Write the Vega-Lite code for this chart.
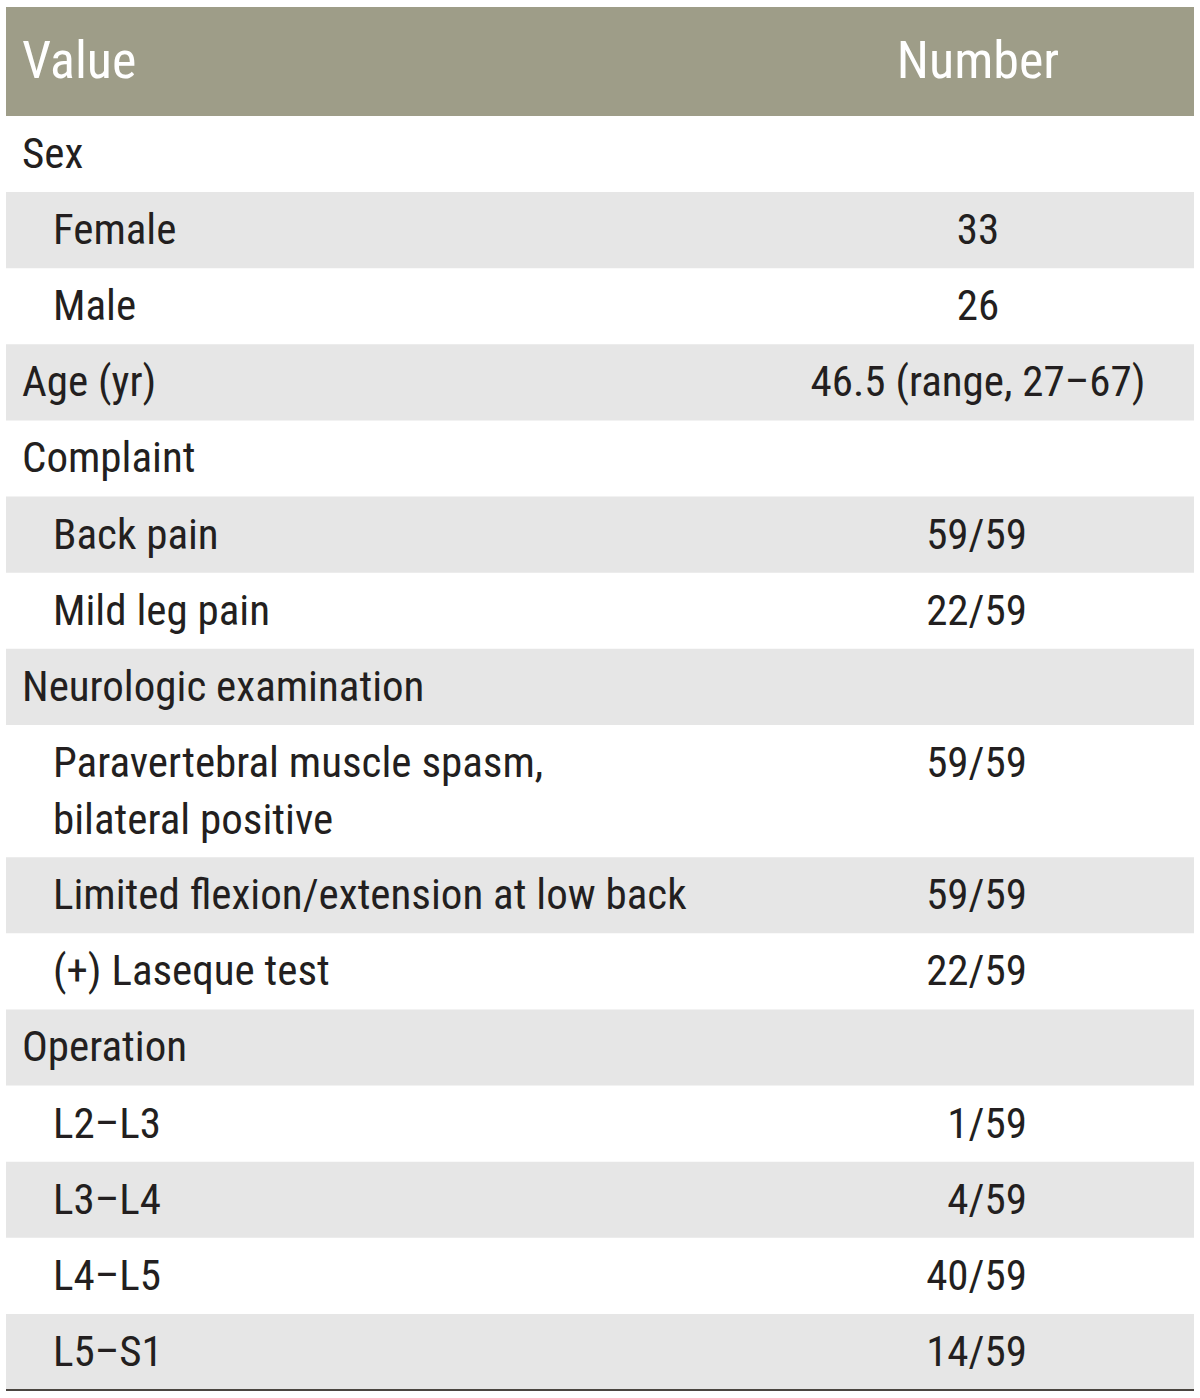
{
  "$schema": "https://vega.github.io/schema/vega-lite/v6.json",
  "width": 1188,
  "height": 1398,
  "autosize": "none",
  "padding": {"left": 6, "right": 6, "top": 0, "bottom": 0},
  "background": "white",
  "config": {"view": {"stroke": null}, "text": {"font": "Roboto Condensed, Roboto"}},
  "data": {"values": [
    {"row": 0, "kind": "header", "label": "Value", "value": "Number", "lines": 1},
    {"row": 1, "kind": "group", "label": "Sex", "value": "", "lines": 1},
    {"row": 2, "kind": "item", "label": "Female", "value": "33", "lines": 1},
    {"row": 3, "kind": "item", "label": "Male", "value": "26", "lines": 1},
    {"row": 4, "kind": "group", "label": "Age (yr)", "value": "46.5 (range, 27–67)", "lines": 1},
    {"row": 5, "kind": "group", "label": "Complaint", "value": "", "lines": 1},
    {"row": 6, "kind": "item", "label": "Back pain", "value": "59/59", "lines": 1},
    {"row": 7, "kind": "item", "label": "Mild leg pain", "value": "22/59", "lines": 1},
    {"row": 8, "kind": "group", "label": "Neurologic examination", "value": "", "lines": 1},
    {"row": 9, "kind": "item", "label": "Paravertebral muscle spasm,\nbilateral positive", "value": "59/59", "lines": 2},
    {"row": 10, "kind": "item", "label": "Limited flexion/extension at low back", "value": "59/59", "lines": 1},
    {"row": 11, "kind": "item", "label": "(+) Laseque test", "value": "22/59", "lines": 1},
    {"row": 12, "kind": "group", "label": "Operation", "value": "", "lines": 1},
    {"row": 13, "kind": "item", "label": "L2–L3", "value": "1/59", "lines": 1},
    {"row": 14, "kind": "item", "label": "L3–L4", "value": "4/59", "lines": 1},
    {"row": 15, "kind": "item", "label": "L4–L5", "value": "40/59", "lines": 1},
    {"row": 16, "kind": "item", "label": "L5–S1", "value": "14/59", "lines": 1}
  ]},
  "transform": [
    {"calculate": "datum.kind == 'header' ? 1.432 : (datum.lines == 2 ? 1.737 : 1)", "as": "h"},
    {"window": [{"op": "sum", "field": "h", "as": "bottom"}], "sort": [{"field": "row"}], "frame": [null, 0]},
    {"calculate": "datum.bottom - datum.h", "as": "top"}
  ],
  "layer": [
    {
      "transform": [{"filter": "datum.kind == 'header'"}],
      "mark": {"type": "rect", "color": "#9e9d88"},
      "encoding": {
        "y": {"field": "top", "type": "quantitative", "scale": {"domain": [-0.092, 18.274], "reverse": true, "nice": false, "zero": false}, "axis": null},
        "y2": {"field": "bottom"}
      }
    },
    {
      "transform": [{"filter": "datum.kind != 'header' && datum.row % 2 == 0"}],
      "mark": {"type": "rect", "color": "#e6e6e6"},
      "encoding": {
        "y": {"field": "top", "type": "quantitative", "scale": {"domain": [-0.092, 18.274], "reverse": true, "nice": false, "zero": false}, "axis": null},
        "y2": {"field": "bottom"}
      }
    },
    {
      "mark": {"type": "rule", "color": "#4a4540", "strokeWidth": 2},
      "encoding": {
        "y": {"aggregate": "max", "field": "bottom", "type": "quantitative", "scale": {"domain": [-0.092, 18.274], "reverse": true, "nice": false, "zero": false}, "axis": null}
      }
    },
    {
      "transform": [{"filter": "datum.kind == 'header'"}],
      "mark": {"type": "text", "align": "left", "baseline": "alphabetic", "dy": 71, "fontSize": 52, "color": "white"},
      "encoding": {
        "x": {"datum": "Value", "type": "nominal", "scale": {"type": "point", "domain": ["Value", "Number"], "range": [16, 972], "padding": 0}, "axis": null},
        "y": {"field": "top", "type": "quantitative", "scale": {"domain": [-0.092, 18.274], "reverse": true, "nice": false, "zero": false}, "axis": null},
        "text": {"field": "label"}
      }
    },
    {
      "transform": [{"filter": "datum.kind == 'header'"}],
      "mark": {"type": "text", "align": "center", "baseline": "alphabetic", "dy": 71, "fontSize": 52, "color": "white"},
      "encoding": {
        "x": {"datum": "Number", "type": "nominal", "scale": {"type": "point", "domain": ["Value", "Number"], "range": [16, 972], "padding": 0}, "axis": null},
        "y": {"field": "top", "type": "quantitative", "scale": {"domain": [-0.092, 18.274], "reverse": true, "nice": false, "zero": false}, "axis": null},
        "text": {"field": "value"}
      }
    },
    {
      "transform": [{"filter": "datum.kind == 'group'"}],
      "mark": {"type": "text", "align": "left", "baseline": "alphabetic", "dy": 52, "fontSize": 43, "color": "#231f20"},
      "encoding": {
        "x": {"datum": "Value", "type": "nominal", "scale": {"type": "point", "domain": ["Value", "Number"], "range": [16, 972], "padding": 0}, "axis": null},
        "y": {"field": "top", "type": "quantitative", "scale": {"domain": [-0.092, 18.274], "reverse": true, "nice": false, "zero": false}, "axis": null},
        "text": {"field": "label"}
      }
    },
    {
      "transform": [{"filter": "datum.kind == 'item'"}],
      "mark": {"type": "text", "align": "left", "baseline": "alphabetic", "dy": 52, "dx": 31, "fontSize": 43, "color": "#231f20", "lineBreak": "\n", "lineHeight": 57},
      "encoding": {
        "x": {"datum": "Value", "type": "nominal", "scale": {"type": "point", "domain": ["Value", "Number"], "range": [16, 972], "padding": 0}, "axis": null},
        "y": {"field": "top", "type": "quantitative", "scale": {"domain": [-0.092, 18.274], "reverse": true, "nice": false, "zero": false}, "axis": null},
        "text": {"field": "label"}
      }
    },
    {
      "transform": [{"filter": "datum.kind != 'header' && indexof(datum.value, '/') < 0"}],
      "mark": {"type": "text", "align": "center", "baseline": "alphabetic", "dy": 52, "fontSize": 43, "color": "#231f20"},
      "encoding": {
        "x": {"datum": "Number", "type": "nominal", "scale": {"type": "point", "domain": ["Value", "Number"], "range": [16, 972], "padding": 0}, "axis": null},
        "y": {"field": "top", "type": "quantitative", "scale": {"domain": [-0.092, 18.274], "reverse": true, "nice": false, "zero": false}, "axis": null},
        "text": {"field": "value"}
      }
    },
    {
      "transform": [{"filter": "datum.kind != 'header' && indexof(datum.value, '/') >= 0"}],
      "mark": {"type": "text", "align": "right", "baseline": "alphabetic", "dy": 52, "dx": 49, "fontSize": 43, "color": "#231f20"},
      "encoding": {
        "x": {"datum": "Number", "type": "nominal", "scale": {"type": "point", "domain": ["Value", "Number"], "range": [16, 972], "padding": 0}, "axis": null},
        "y": {"field": "top", "type": "quantitative", "scale": {"domain": [-0.092, 18.274], "reverse": true, "nice": false, "zero": false}, "axis": null},
        "text": {"field": "value"}
      }
    }
  ]
}
